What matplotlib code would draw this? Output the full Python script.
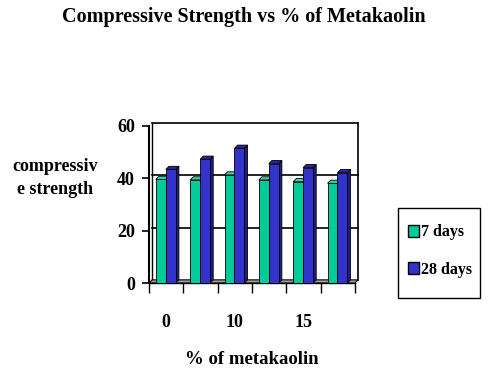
import matplotlib
matplotlib.use("Agg")
import matplotlib.pyplot as plt
from matplotlib.patches import Polygon, Patch, Rectangle

# values
x_labels = ["0", "", "10", "", "15", ""]
days_7 = [39.6, 39.4, 41.3, 39.4, 38.7, 38.1]
days_28 = [43.4, 47.3, 51.5, 45.6, 44.1, 42.2]
series_names = ["7 days", "28 days"]

green = "#00CC99"
blue = "#3333CC"
green_dark = "#008F6B"
blue_dark = "#1F1F7A"
green_top = "#33D6AD"
blue_top = "#26269A"

plt.rcParams["font.family"] = ["Liberation Serif", "DejaVu Serif"]
plt.rcParams["font.weight"] = "bold"

fig = plt.figure(figsize=(4.88, 3.72), dpi=100)
ax = fig.add_axes([149 / 488, 89 / 372, 206 / 488, 157 / 372])

n = len(days_7)
dx, dy = 0.09, 1.2  # fake 3d depth
ax.set_xlim(0, n)
ax.set_ylim(0, 60)

# back wall grid lines and frame
for g in [20, 40, 60]:
    ax.plot([dx, n + dx], [g + dy, g + dy], color="black", lw=1.2, clip_on=False, zorder=1)
ax.plot([n + dx, n + dx], [dy, 60 + dy], color="black", lw=1.2, clip_on=False, zorder=1)
ax.plot([dx, dx], [dy, 60 + dy], color="black", lw=1.0, clip_on=False, zorder=1)
# floor
ax.add_patch(Polygon([[0, 0], [n, 0], [n + dx, dy], [dx, dy]], closed=True,
                     facecolor="#A0A0A0", edgecolor="black", lw=0.8, clip_on=False, zorder=1))


def bar3d(xs, vals, face, side, top):
    bars = ax.bar(xs, vals, width=0.29, align="edge", color=face, edgecolor="black",
                  lw=0.6, zorder=3)
    for b in bars:
        x0, w, h = b.get_x(), b.get_width(), b.get_height()
        ax.add_patch(Polygon([[x0 + w, 0], [x0 + w + dx, dy], [x0 + w + dx, h + dy], [x0 + w, h]],
                             closed=True, facecolor=side, edgecolor="black", lw=0.6, zorder=2))
        ax.add_patch(Polygon([[x0, h], [x0 + w, h], [x0 + w + dx, h + dy], [x0 + dx, h + dy]],
                             closed=True, facecolor=top, edgecolor="black", lw=0.6, zorder=3))
    return bars


pos = list(range(n))
bar3d([p + 0.2 for p in pos], days_7, green, green_dark, green_top)
bar3d([p + 0.49 for p in pos], days_28, blue, blue_dark, blue_top)

for s in ["top", "right"]:
    ax.spines[s].set_visible(False)
ax.spines["left"].set_linewidth(1.5)
ax.spines["bottom"].set_linewidth(1.0)

ax.set_yticks([0, 20, 40, 60])
ax.tick_params(axis="y", direction="out", length=5, width=1.2, labelsize=13, pad=5)
ax.set_xticks(range(n + 1))
ax.set_xticklabels([])
ax.set_xticks([p + 0.5 for p in pos], minor=True)
ax.set_xticklabels(x_labels, minor=True, fontsize=13)
ax.tick_params(axis="x", which="major", direction="out", length=7, width=1.0)
ax.tick_params(axis="x", which="minor", length=0, pad=22)

fig.text(0.5, 1 - 17 / 372, "Compressive Strength vs % of Metakaolin", ha="center", va="center",
         fontsize=14.5, fontweight="bold")
fig.text(55 / 488, 1 - 178 / 372, "compressiv\ne strength", ha="center", va="center",
         fontsize=13, fontweight="bold", linespacing=1.4)
fig.text(252 / 488, 1 - 360 / 372, "% of metakaolin", ha="center", va="center",
         fontsize=13.5, fontweight="bold")

# legend box drawn separately so its size matches the original
fig.patches.append(Rectangle((398 / 488, 1 - 298 / 372), 82 / 488, 90 / 372,
                             transform=fig.transFigure, facecolor="white", edgecolor="black",
                             lw=1.0, zorder=0))
handles = [Patch(facecolor=green, edgecolor="black"), Patch(facecolor=blue, edgecolor="black")]
leg = fig.legend(handles, series_names, loc="center", bbox_to_anchor=(440 / 488, 1 - 251 / 372),
                 borderaxespad=0, frameon=False, fontsize=11.5,
                 handlelength=0.7, handleheight=0.8, handletextpad=0.15, labelspacing=1.35,
                 borderpad=0.2)

fig.savefig("out.png", dpi=100)
